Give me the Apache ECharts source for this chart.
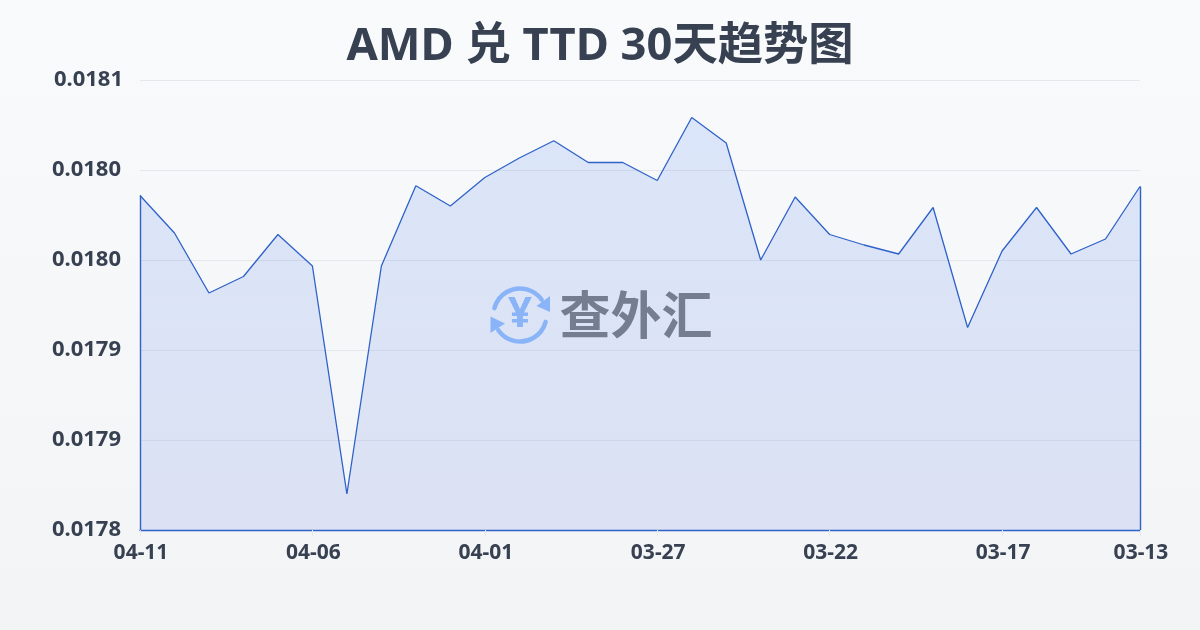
<!DOCTYPE html>
<html><head><meta charset="utf-8">
<style>html,body{margin:0;padding:0;width:1200px;height:630px;overflow:hidden}#c{width:1200px;height:630px}</style>
<script src="https://cdn.jsdelivr.net/npm/echarts@6/dist/echarts.min.js"></script>
</head><body><div id="c"></div>
<script>
const titleText = 'AMD 兑 TTD 30天趋势图';
const dates = ['04-11','04-10','04-09','04-08','04-07','04-06','04-05','04-04','04-03','04-02','04-01','03-31','03-30','03-29','03-28','03-27','03-26','03-25','03-24','03-23','03-22','03-21','03-20','03-19','03-18','03-17','03-16','03-15','03-14','03-13'];
const rates = [0.018023,0.017998,0.017958,0.017969,0.017997,0.017976,0.017824,0.017976,0.0180295,0.018016,0.018035,0.018048,0.0180595,0.018045,0.018045,0.018033,0.018075,0.018058,0.017980,0.018022,0.017997,0.017990,0.017984,0.018015,0.017935,0.017986,0.018015,0.017984,0.017994,0.018029];
const yMin = 0.0178, yMax = 0.0181, yStep = 0.00006;
const font = '"Noto Sans","Noto Sans CJK SC",sans-serif';
const textColor = '#374151', lineColor = '#2f62c9', logoBlue = '#8ab4f8';
const showTick = i => i % 5 === 0 || i === dates.length - 1;
const last = dates.length - 1;
const chart = echarts.init(document.getElementById('c'), null, {renderer:'canvas'});
const yLabelStyle = {fontFamily:font,fontSize:22,fontWeight:'bold',color:textColor};
chart.setOption({
  animation:false,
  backgroundColor:{type:'linear',x:0,y:0,x2:0,y2:1,colorStops:[{offset:0,color:'#f8fafc'},{offset:1,color:'#f3f4f6'}]},
  title:{text:titleText,left:'center',top:19,textStyle:{fontFamily:font,fontSize:45.3,fontWeight:'bold',color:textColor}},
  grid:{left:140,right:60,top:80,bottom:100},
  xAxis:{type:'category',data:dates,boundaryGap:false,
    axisLine:{show:true,lineStyle:{color:lineColor,width:1.4}},
    axisTick:{show:true,alignWithLabel:true,interval:showTick,length:6,lineStyle:{color:'#e5e7eb'}},
    axisLabel:{interval:showTick,margin:13,padding:[0,0,0,2],fontFamily:font,fontSize:21,fontWeight:'bold',color:textColor},
    splitLine:{show:false}},
  yAxis:{type:'value',min:yMin,max:yMax,interval:yStep,
    axisLine:{show:false},axisTick:{show:false},
    axisLabel:{margin:17,...yLabelStyle,
      formatter:v=>Math.abs(v-yMax)<1e-9?'{top|'+v.toFixed(4)+'}':'{rest|'+v.toFixed(4)+'}',
      rich:{top:{...yLabelStyle,padding:[0,0,1,0]},rest:{...yLabelStyle,padding:[0,2,1,0]}}},
    splitLine:{lineStyle:{color:'#e5e7eb',width:1}}},
  series:[{type:'line',data:rates,symbol:'none',smooth:false,
    lineStyle:{color:lineColor,width:1.3},
    areaStyle:{color:{type:'linear',x:0,y:0,x2:0,y2:1,colorStops:[{offset:0,color:'rgba(37,99,235,0.19)'},{offset:1,color:'rgba(37,83,215,0.17)'}]}},
    markLine:{silent:true,symbol:'none',label:{show:false},lineStyle:{color:lineColor,width:1.4,type:'solid'},
      data:[[{coord:[dates[0],yMin]},{coord:[dates[0],rates[0]]}],[{coord:[dates[last],yMin]},{coord:[dates[last],rates[last]]}]]}
  }],
  graphic:[
    {type:'arc',z:50,shape:{cx:520,cy:315,r:26.5,startAngle:195*Math.PI/180,endAngle:325*Math.PI/180},style:{stroke:logoBlue,lineWidth:4.5,fill:null,lineCap:'round'}},
    {type:'arc',z:50,shape:{cx:520,cy:315,r:26.5,startAngle:15*Math.PI/180,endAngle:145*Math.PI/180},style:{stroke:logoBlue,lineWidth:4.5,fill:null,lineCap:'round'}},
    {type:'polygon',z:50,shape:{points:[[550,296],[550,312],[536.5,306]]},style:{fill:logoBlue}},
    {type:'polygon',z:50,shape:{points:[[490.5,316.5],[490.5,333],[505,323.5]]},style:{fill:logoBlue}},
    {type:'text',z:50,style:{text:'¥',x:520,y:315,align:'center',verticalAlign:'middle',fontFamily:font,fontSize:42,fontWeight:'bold',fill:logoBlue}},
    {type:'text',z:50,style:{text:'查外汇',x:636,y:315,align:'center',verticalAlign:'middle',fontFamily:'"Noto Sans CJK SC"',fontSize:51,fontWeight:'bold',fill:'#757e90'}}
  ]
});
</script></body></html>
